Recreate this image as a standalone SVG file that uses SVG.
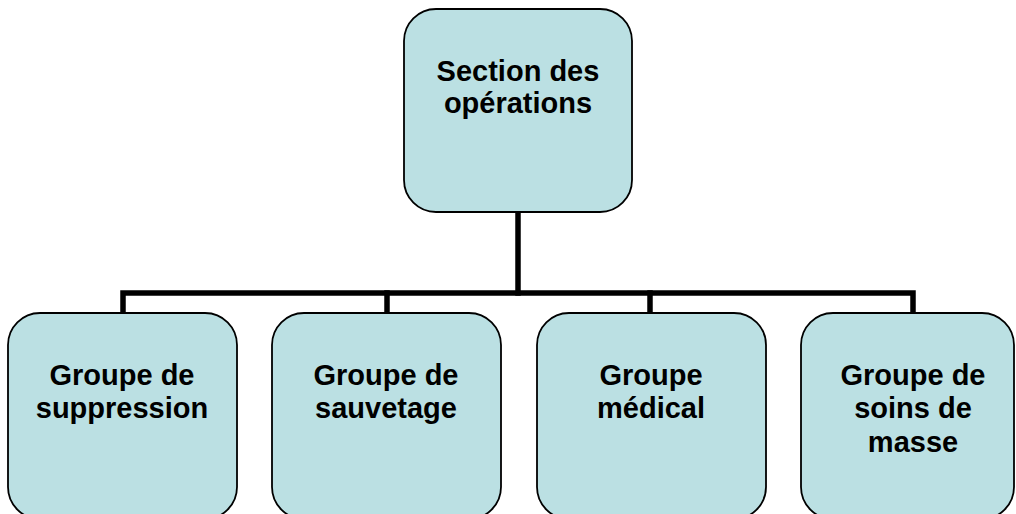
<svg xmlns="http://www.w3.org/2000/svg" width="1016" height="514" viewBox="0 0 1016 514">
  <style>
    .box { fill: #BBE0E3; stroke: #000; stroke-width: 1.8; }
    .lbl { font-family: "Liberation Sans", Arial, sans-serif; font-weight: bold; font-size: 29px; fill: #000; text-anchor: middle; }
    .wire { fill: none; stroke: #000; stroke-width: 5.5; stroke-linecap: square; }
  </style>
  <rect width="1016" height="514" fill="#fff"/>

  <!-- connectors -->
  <g id="connectors">
    <path class="wire" d="M518 212 V293"/>
    <path class="wire" d="M123 313 V293 H913 V313"/>
    <path class="wire" d="M387 293 V313"/>
    <path class="wire" d="M650 293 V313"/>
  </g>

  <!-- root node -->
  <g id="section-operations">
    <rect class="box" x="404" y="9" width="228" height="203" rx="32" ry="32"/>
    <text class="lbl" x="518" y="81">Section des</text>
    <text class="lbl" x="518" y="113">opérations</text>
  </g>

  <!-- child nodes -->
  <g id="groupe-suppression">
    <rect class="box" x="8" y="313" width="229" height="206" rx="32" ry="32"/>
    <text class="lbl" x="122" y="385">Groupe de</text>
    <text class="lbl" x="122" y="418">suppression</text>
  </g>

  <g id="groupe-sauvetage">
    <rect class="box" x="272" y="313" width="229" height="206" rx="32" ry="32"/>
    <text class="lbl" x="386" y="385">Groupe de</text>
    <text class="lbl" x="386" y="418">sauvetage</text>
  </g>

  <g id="groupe-medical">
    <rect class="box" x="537" y="313" width="229" height="206" rx="32" ry="32"/>
    <text class="lbl" x="651" y="385">Groupe</text>
    <text class="lbl" x="651" y="418">médical</text>
  </g>

  <g id="groupe-soins-masse">
    <rect class="box" x="801" y="313" width="213" height="206" rx="32" ry="32"/>
    <text class="lbl" x="913" y="385">Groupe de</text>
    <text class="lbl" x="913" y="418">soins de</text>
    <text class="lbl" x="913" y="452">masse</text>
  </g>
</svg>
